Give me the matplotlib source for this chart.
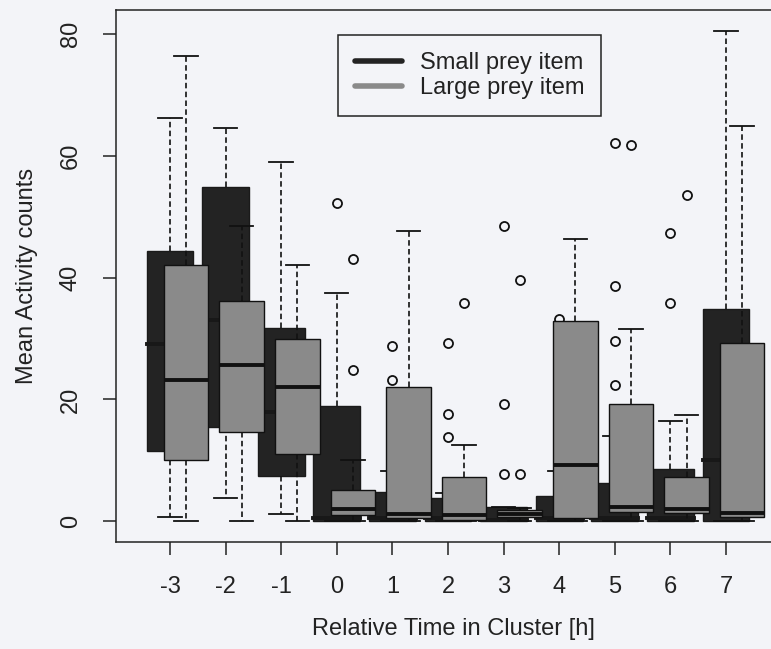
import matplotlib
matplotlib.use("Agg")
import matplotlib.pyplot as plt
from matplotlib.lines import Line2D

plt.rcParams['font.family'] = ['Liberation Sans', 'DejaVu Sans']
plt.rcParams['axes.unicode_minus'] = False

# relative time in cluster [h]
hours = [-3, -2, -1, 0, 1, 2, 3, 4, 5, 6, 7]

# small prey item (dark boxes)
small_q1 = [11.6, 15.5, 7.4, 0, 0, 0, 0, 0, 0, 0, 0]
small_med = [29.1, 33.0, 18.0, 0.5, 0.5, 0.5, 0.3, 0.5, 0.5, 0.5, 10.0]
small_q3 = [44.3, 54.8, 31.8, 18.9, 4.8, 3.8, 2.3, 4.1, 6.3, 8.6, 34.9]
small_lo = [0.8, 3.8, 1.2, 0, 0, 0, 0, 0, 0, 0, 0]
small_hi = [66.1, 64.6, 59.0, 37.5, 8.3, 4.7, 2.3, 8.3, 14.0, 16.5, 80.5]
small_out = [[], [], [], [52.2], [28.8, 23.2], [29.3, 17.6, 13.9],
             [48.5, 19.2, 7.8], [33.2], [62.0, 38.7, 29.6, 22.4],
             [47.3, 35.9], []]

# large prey item (grey boxes)
large_q1 = [10.1, 14.7, 11.1, 1.0, 0.5, 0.3, 0.8, 0.6, 1.6, 1.4, 0.7]
large_med = [23.2, 25.7, 22.1, 2.0, 1.2, 1.0, 1.2, 9.3, 2.3, 2.0, 1.3]
large_q3 = [42.0, 36.2, 30.0, 5.2, 22.1, 7.3, 1.9, 32.9, 19.3, 7.3, 29.3]
large_lo = [0, 0, 0, 0, 0, 0, 0, 0, 0, 0, 0]
large_hi = [76.4, 48.5, 42.1, 10.0, 47.6, 12.6, 2.2, 46.4, 31.5, 17.5, 64.8]
large_out = [[], [], [], [43.0, 24.9], [], [35.9], [39.6, 7.8], [], [61.7],
             [53.5], []]

bg = '#f3f4f8'
dark = '#232323'
grey = '#8a8a8a'


def stats(q1, med, q3, lo, hi, out):
    return [dict(q1=a, med=b, q3=c, whislo=d, whishi=e, fliers=f)
            for a, b, c, d, e, f in zip(q1, med, q3, lo, hi, out)]


fig = plt.figure(figsize=(7.71, 6.49), dpi=100, facecolor=bg)
ax = fig.add_axes([116 / 771, 1 - 541.5 / 649, 674 / 771, 531.5 / 649])
ax.set_facecolor(bg)

common = dict(patch_artist=True, capwidths=0.42,
              whiskerprops=dict(color='#111111', lw=1.2, linestyle=(0, (3.3, 2.0))),
              capprops=dict(color='#111111', lw=1.3),
              flierprops=dict(marker='o', markerfacecolor='none',
                              markeredgecolor='#111111', markersize=6.5,
                              markeredgewidth=1.3, linestyle='none'))

ax.bxp(stats(small_q1, small_med, small_q3, small_lo, small_hi, small_out),
       positions=hours, widths=0.84, zorder=2,
       boxprops=dict(facecolor=dark, edgecolor='#1a1a1a', lw=1.0),
       medianprops=dict(color='#181818', lw=2.8, solid_capstyle='projecting'),
       **common)
ax.bxp(stats(large_q1, large_med, large_q3, large_lo, large_hi, large_out),
       positions=[h + 0.29 for h in hours], widths=0.8, zorder=3,
       boxprops=dict(facecolor=grey, edgecolor='#111111', lw=1.0),
       medianprops=dict(color='#111111', lw=2.8, solid_capstyle='butt'),
       **common)

ax.set_xlim(-3.97, 8.15)
ax.set_ylim(-3.3, 83.9)
ax.set_xticks(hours)
ax.set_xticklabels([str(h) for h in hours])
ax.set_yticks([0, 20, 40, 60, 80])
ax.set_yticklabels(['0', '20', '40', '60', '80'], rotation=90, va='center')
ax.tick_params(direction='out', length=9.5, width=1.1, color='#222222',
               labelsize=17, labelcolor='#222222', pad=15)
for s in ax.spines.values():
    s.set_color('#222222')
    s.set_linewidth(1.1)

ax.set_xlabel('Relative Time in Cluster [h]', fontsize=17, color='#222222', labelpad=15)
ax.set_ylabel('Mean Activity counts', fontsize=17, color='#222222', labelpad=16)

handles = [Line2D([], [], color=dark, lw=4, solid_capstyle='round'),
           Line2D([], [], color=grey, lw=4, solid_capstyle='round')]
leg = ax.legend(handles, ['Small prey item', 'Large prey item'],
                loc='upper left', bbox_to_anchor=(0.3294, 0.953),
                borderaxespad=0, fontsize=17, handlelength=2.0,
                handletextpad=0.75, labelspacing=0.12, borderpad=0.72,
                fancybox=False, framealpha=1, facecolor=bg, edgecolor='#222222')
leg.get_frame().set_linewidth(1.1)
for t in leg.get_texts():
    t.set_color('#222222')

fig.savefig('out.png', dpi=100, facecolor=bg)
